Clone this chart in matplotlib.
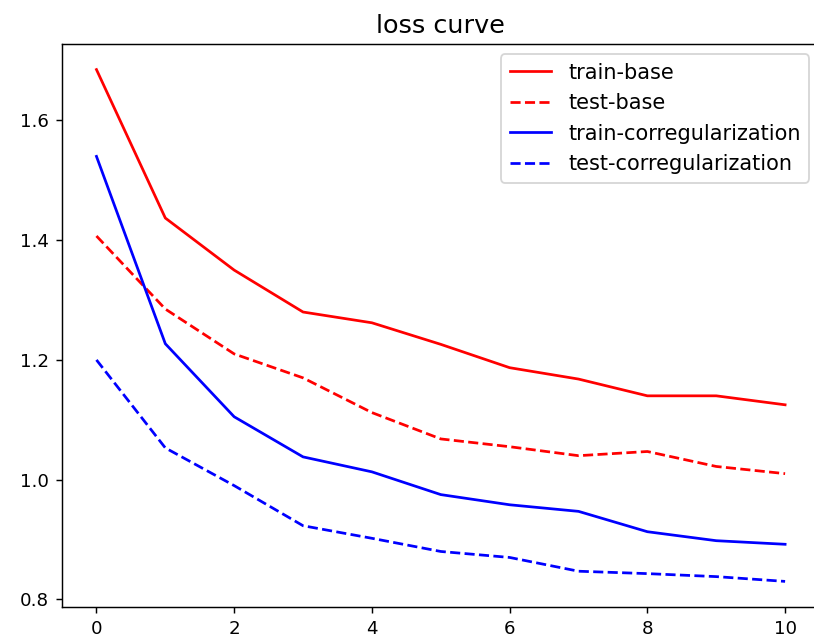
import matplotlib
matplotlib.use("Agg")
import matplotlib.pyplot as plt

epochs = list(range(11))
train_base = [1.685, 1.437, 1.350, 1.280, 1.262, 1.226, 1.187, 1.168, 1.140, 1.140, 1.125]
test_base = [1.407, 1.285, 1.210, 1.170, 1.112, 1.068, 1.055, 1.040, 1.047, 1.022, 1.010]
train_corr = [1.540, 1.227, 1.105, 1.038, 1.013, 0.975, 0.958, 0.947, 0.913, 0.898, 0.892]
test_corr = [1.200, 1.053, 0.990, 0.923, 0.902, 0.880, 0.870, 0.847, 0.843, 0.838, 0.830]

dpi = 131
fig, ax = plt.subplots(figsize=(814 / dpi, 643 / dpi), dpi=dpi)
# 原图右侧被裁掉了一点，所以 right > 1
fig.subplots_adjust(left=0.0762, right=1.0068, bottom=0.056, top=0.9316)

ax.plot(epochs, train_base, "r-", label="train-base")
ax.plot(epochs, test_base, "r--", label="test-base")
ax.plot(epochs, train_corr, "b-", label="train-corregularization")
ax.plot(epochs, test_corr, "b--", label="test-corregularization")
ax.set_title("loss curve", fontsize=14)
ax.tick_params(labelsize=10)
ax.legend(fontsize=11.5)

fig.savefig("out.png", dpi=dpi)
